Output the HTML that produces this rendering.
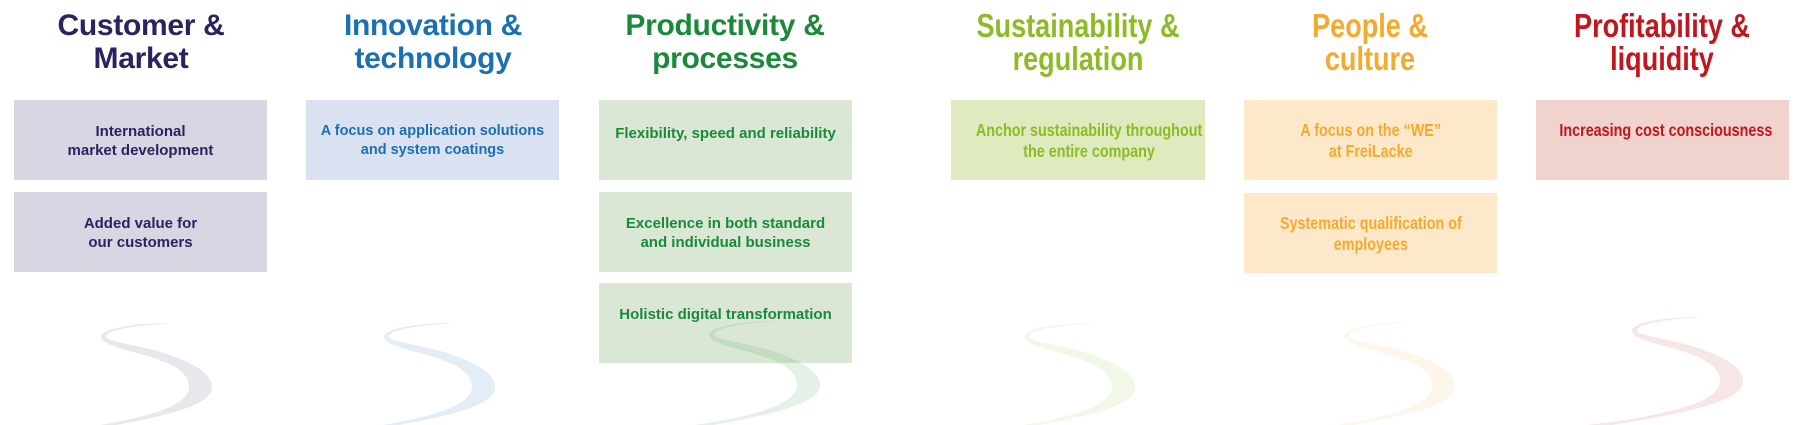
<!DOCTYPE html>
<html><head><meta charset="utf-8"><style>
html,body{margin:0;padding:0;background:#fff;}
body{width:1799px;height:425px;position:relative;overflow:hidden;font-family:"Liberation Sans",Arial,sans-serif;}
svg{position:absolute;left:0;top:0;z-index:2;}
.h{position:absolute;top:9px;width:300px;text-align:center;font-weight:bold;font-size:30px;line-height:33px;letter-spacing:-0.3px;}
.n{transform:scaleX(0.82);font-size:33px;letter-spacing:0;}
.b{position:absolute;width:253px;height:80px;box-sizing:border-box;padding-top:22px;text-align:center;font-weight:bold;font-size:15px;line-height:19px;white-space:nowrap;}
.bn{padding-top:20px;}
.bn span{display:inline-block;transform:scaleX(0.82);font-size:17.5px;line-height:21px;}
</style></head><body>
<svg width="1799" height="425">
<defs><path id="s" d="M71,-12 C30,-12 0,-6 0,2 C0,10 30,16 50,22 C78,31 88,40 88,52 C88,70 50,85 -45,96 L-20,96 C80,80 111,68 111,52 C111,36 85,25 60,17 C35,10 5,6 5,2 C5,-6 40,-10 71,-12 Z"/></defs>
<use href="#s" x="101" y="335" fill="#2b2260" fill-opacity="0.11"/>
<use href="#s" x="384" y="335" fill="#1a6fb5" fill-opacity="0.12"/>
<use href="#s" x="709" y="333" fill="#1a8a3a" fill-opacity="0.12"/>
<use href="#s" x="1024" y="335" fill="#8dbb26" fill-opacity="0.11"/>
<use href="#s" x="1344" y="334" fill="#f5aa2d" fill-opacity="0.10"/>
<use href="#s" x="1632" y="329" fill="#c0161f" fill-opacity="0.11"/>
</svg>
<div class="h" style="left:-9px;color:#2b2260">Customer &amp;<br>Market</div>
<div class="h" style="left:283px;color:#1a6fb5">Innovation &amp;<br>technology</div>
<div class="h" style="left:575px;color:#1a8a3a">Productivity &amp;<br>processes</div>
<div class="h n" style="left:928px;color:#8dbb26">Sustainability &amp;<br>regulation</div>
<div class="h n" style="left:1220px;color:#f5aa2d">People &amp;<br>culture</div>
<div class="h n" style="left:1512px;color:#c0161f">Profitability &amp;<br>liquidity</div>

<div class="b" style="left:14px;top:100px;background:#d9d5e2;color:#2b2260">International<br>market development</div>
<div class="b" style="left:14px;top:192px;background:#d9d5e2;color:#2b2260">Added value for<br>our customers</div>
<div class="b" style="left:306px;top:100px;background:#dae2f2;color:#1a6fb5;font-size:14.5px">A focus on application solutions<br>and system coatings</div>
<div class="b" style="left:599px;top:100px;background:#dbe7d5;color:#1a8a3a;padding-top:24px">Flexibility, speed and reliability</div>
<div class="b" style="left:599px;top:192px;background:#dbe7d5;color:#1a8a3a">Excellence in both standard<br>and individual business</div>
<div class="b" style="left:599px;top:283px;background:#dbe7d5;color:#1a8a3a">Holistic digital transformation</div>
<div class="b bn" style="left:951px;top:100px;width:254px;background:#dfeabe;color:#8dbb26"><span>Anchor sustainability throughout<br>the entire company</span></div>
<div class="b bn" style="left:1244px;top:100px;background:#fde8c9;color:#f5aa2d"><span>A focus on the “WE”<br>at FreiLacke</span></div>
<div class="b bn" style="left:1244px;top:193px;background:#fde8c9;color:#f5aa2d"><span>Systematic qualification of<br>employees</span></div>
<div class="b bn" style="left:1536px;top:100px;background:#f0d3cc;color:#c0161f"><span>Increasing cost consciousness</span></div>
</body></html>
